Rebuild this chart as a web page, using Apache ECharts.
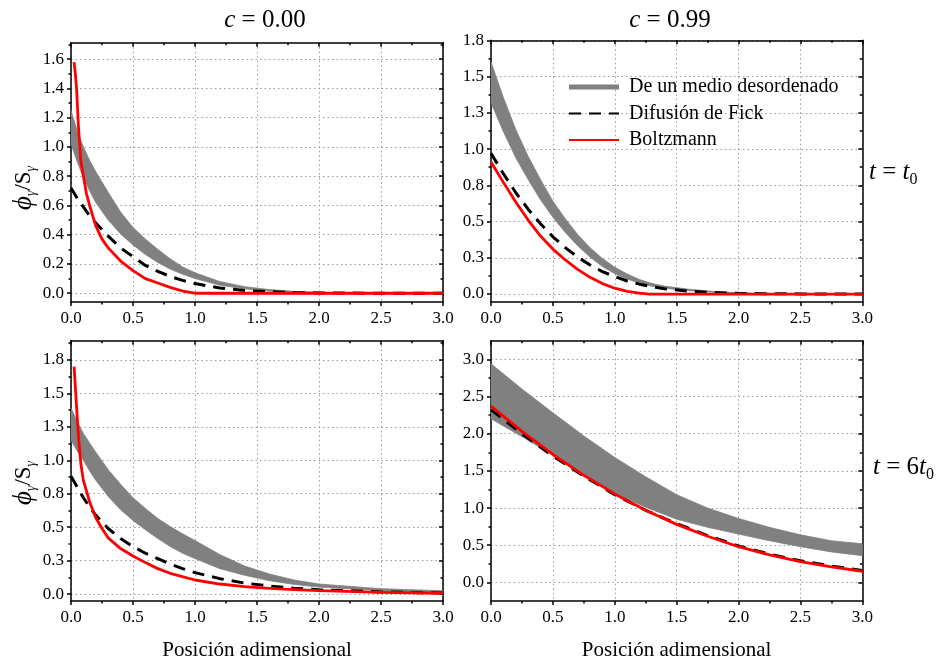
<!DOCTYPE html>
<html><head><meta charset="utf-8">
<script src="https://cdn.jsdelivr.net/npm/echarts@6/dist/echarts.min.js"></script>
<style>html,body{margin:0;padding:0;background:#fff}#c{width:938px;height:659px}</style>
</head><body><div id="c"></div>
<script>
// ---------- tick labels ----------
const xMajorTicks = [0, 0.5, 1.0, 1.5, 2.0, 2.5, 3.0];
const tlYMajor = [0, 0.2, 0.4, 0.6, 0.8, 1.0, 1.2, 1.4, 1.6];
const tlYMinor = [0.1, 0.3, 0.5, 0.7, 0.9, 1.1, 1.3, 1.5, 1.7];
const trYMajor = [0, 0.25, 0.5, 0.75, 1.0, 1.25, 1.5, 1.75];
const trYMinor = [0.125, 0.375, 0.625, 0.875, 1.125, 1.375, 1.625];
const blYMajor = [0, 0.25, 0.5, 0.75, 1.0, 1.25, 1.5, 1.75];
const blYMinor = [0.125, 0.375, 0.625, 0.875, 1.125, 1.375, 1.625, 1.875];
const brYMajor = [0, 0.5, 1.0, 1.5, 2.0, 2.5, 3.0];
const brYMinor = [0.25, 0.75, 1.25, 1.75, 2.25, 2.75];

// ---------- panel c = 0.00, t = t0 ----------
const tlX        = [0, 0.05, 0.1, 0.15, 0.2, 0.3, 0.4, 0.5, 0.6, 0.7, 0.8, 0.9, 1.0, 1.2, 1.4, 1.6, 1.8, 2.0, 2.5, 3.0];
const tlBandHigh = [1.25, 1.11, 1.0, 0.91, 0.83, 0.69, 0.555, 0.45, 0.37, 0.30, 0.235, 0.18, 0.14, 0.08, 0.045, 0.025, 0.013, 0.006, 0.001, 0];
const tlBandLow  = [1.02, 0.90, 0.79, 0.70, 0.62, 0.50, 0.405, 0.33, 0.265, 0.21, 0.165, 0.13, 0.10, 0.055, 0.03, 0.015, 0.007, 0.003, 0, 0];
const tlFick     = [0.72, 0.65, 0.59, 0.53, 0.48, 0.39, 0.31, 0.25, 0.19, 0.15, 0.115, 0.088, 0.066, 0.036, 0.019, 0.01, 0.005, 0.002, 0, 0];
const tlBoltzX   = [0.025, 0.035, 0.045, 0.06, 0.08, 0.1, 0.125, 0.15, 0.2, 0.25, 0.3, 0.4, 0.5, 0.6, 0.7, 0.8, 0.9, 1.0, 1.5, 2.0, 2.5, 3.0];
const tlBoltz    = [1.58, 1.50, 1.40, 1.14, 0.90, 0.80, 0.68, 0.60, 0.46, 0.37, 0.31, 0.22, 0.155, 0.10, 0.07, 0.04, 0.015, 0, 0, 0, 0, 0];

// ---------- panel c = 0.99, t = t0 ----------
const trX        = [0, 0.1, 0.2, 0.3, 0.4, 0.5, 0.6, 0.7, 0.8, 0.9, 1.0, 1.1, 1.2, 1.3, 1.4, 1.6, 1.8, 2.0, 2.2, 2.5, 3.0];
const trBandHigh = [1.60, 1.355, 1.135, 0.95, 0.79, 0.64, 0.52, 0.41, 0.32, 0.245, 0.185, 0.138, 0.10, 0.073, 0.055, 0.033, 0.018, 0.008, 0.003, 0.001, 0];
const trBandLow  = [1.32, 1.12, 0.94, 0.79, 0.65, 0.53, 0.425, 0.333, 0.255, 0.19, 0.14, 0.103, 0.075, 0.054, 0.04, 0.023, 0.012, 0.005, 0.002, 0, 0];
const trFick     = [0.97, 0.83, 0.70, 0.585, 0.485, 0.395, 0.32, 0.255, 0.20, 0.155, 0.12, 0.09, 0.068, 0.05, 0.037, 0.02, 0.01, 0.005, 0.002, 0.001, 0];
const trBoltzX   = [0, 0.1, 0.2, 0.3, 0.4, 0.5, 0.6, 0.7, 0.8, 0.9, 1.0, 1.1, 1.2, 1.28, 1.5, 2.0, 2.5, 3.0];
const trBoltz    = [0.91, 0.77, 0.635, 0.51, 0.40, 0.31, 0.235, 0.17, 0.115, 0.072, 0.04, 0.018, 0.006, 0, 0, 0, 0, 0];

// ---------- panel c = 0.00, t = 6 t0 ----------
const blX        = [0, 0.05, 0.1, 0.15, 0.2, 0.3, 0.4, 0.5, 0.6, 0.7, 0.8, 0.9, 1.0, 1.2, 1.4, 1.6, 1.8, 2.0, 2.5, 3.0];
const blBandHigh = [1.39, 1.29, 1.20, 1.13, 1.06, 0.93, 0.82, 0.72, 0.64, 0.565, 0.505, 0.45, 0.40, 0.295, 0.21, 0.15, 0.105, 0.075, 0.04, 0.025];
const blBandLow  = [1.15, 1.07, 1.00, 0.92, 0.85, 0.73, 0.63, 0.55, 0.48, 0.415, 0.355, 0.305, 0.265, 0.19, 0.14, 0.10, 0.072, 0.052, 0.025, 0.012];
const blFick     = [0.88, 0.80, 0.72, 0.65, 0.59, 0.49, 0.415, 0.355, 0.305, 0.265, 0.225, 0.19, 0.16, 0.115, 0.082, 0.06, 0.044, 0.032, 0.016, 0.008];
const blBoltzX   = [0.025, 0.035, 0.045, 0.06, 0.08, 0.1, 0.15, 0.2, 0.25, 0.3, 0.4, 0.5, 0.6, 0.7, 0.8, 1.0, 1.2, 1.4, 1.6, 1.8, 2.0, 2.5, 3.0];
const blBoltz    = [1.70, 1.55, 1.40, 1.18, 0.97, 0.85, 0.69, 0.57, 0.49, 0.42, 0.34, 0.285, 0.235, 0.19, 0.155, 0.105, 0.075, 0.056, 0.043, 0.033, 0.025, 0.013, 0.006];

// ---------- panel c = 0.99, t = 6 t0 ----------
const brX        = [0, 0.25, 0.5, 0.75, 1.0, 1.25, 1.5, 1.75, 2.0, 2.25, 2.5, 2.75, 3.0];
const brBandHigh = [2.94, 2.60, 2.28, 1.97, 1.68, 1.42, 1.18, 1.00, 0.86, 0.74, 0.64, 0.56, 0.52];
const brBandLow  = [2.20, 1.96, 1.71, 1.45, 1.20, 1.01, 0.85, 0.74, 0.65, 0.56, 0.48, 0.41, 0.36];
const brFick     = [2.32, 2.00, 1.70, 1.43, 1.18, 0.97, 0.79, 0.63, 0.49, 0.38, 0.29, 0.22, 0.16];
const brBoltz    = [2.37, 2.03, 1.72, 1.44, 1.19, 0.97, 0.78, 0.62, 0.48, 0.37, 0.28, 0.21, 0.15];

const NAME_BAND = 'De un medio desordenado';
const NAME_FICK = 'Difusión de Fick';
const NAME_BOLTZ = 'Boltzmann';

const SERIF = '"Liberation Serif", "Times New Roman", serif';
const GRAY = '#808080';
const RED = '#ff0000';

const zip2 = (xs, ys) => xs.map((x, i) => [x, ys[i]]);
const zip3 = (xs, a, b) => xs.map((x, i) => [x, a[i], b[i]]);

const panels = [
  { grid: {left: 71, top: 42.7, width: 372, height: 259.3}, yMin: -0.06, yMax: 1.713, yMajor: tlYMajor, yMinor: tlYMinor,
    band: zip3(tlX, tlBandLow, tlBandHigh), fick: zip2(tlX, tlFick), boltz: zip2(tlBoltzX, tlBoltz), xName: false },
  { grid: {left: 491, top: 40.3, width: 371.3, height: 261.7}, yMin: -0.055, yMax: 1.75, yMajor: trYMajor, yMinor: trYMinor,
    band: zip3(trX, trBandLow, trBandHigh), fick: zip2(trX, trFick), boltz: zip2(trBoltzX, trBoltz), xName: false },
  { grid: {left: 71, top: 340.7, width: 372, height: 260.3}, yMin: -0.052, yMax: 1.894, yMajor: blYMajor, yMinor: blYMinor,
    band: zip3(blX, blBandLow, blBandHigh), fick: zip2(blX, blFick), boltz: zip2(blBoltzX, blBoltz), xName: true },
  { grid: {left: 491, top: 340.7, width: 371.3, height: 260.3}, yMin: -0.25, yMax: 3.25, yMajor: brYMajor, yMinor: brYMinor,
    band: zip3(brX, brBandLow, brBandHigh), fick: zip2(brX, brFick), boltz: zip2(brX, brBoltz), xName: true }
];

const grids = [], xAxes = [], yAxes = [], series = [];
const black = {color: '#000', width: 1.5};
const dotted = {show: true, lineStyle: {color: '#9a9a9a', width: 1, type: [1.5, 3]}};
const fmt = v => Number(v).toFixed(1);

panels.forEach((p, i) => {
  grids.push(Object.assign({show: false, containLabel: false, outerBoundsMode: 'none'}, p.grid));
  xAxes.push({
    type: 'value', gridIndex: i, position: 'bottom', min: 0, max: 3, interval: 0.5,
    axisLine: {show: true, onZero: false, lineStyle: black},
    axisTick: {show: true, inside: false, length: 4, lineStyle: black},
    minorTick: {show: true, splitNumber: 2, length: 2.5, lineStyle: black},
    splitLine: dotted, minorSplitLine: {show: false},
    axisLabel: {show: true, formatter: fmt, color: '#000', fontFamily: SERIF, fontSize: 17, margin: 8},
    name: p.xName ? 'Posición adimensional' : '', nameLocation: 'middle', nameGap: 39,
    nameTextStyle: {fontFamily: SERIF, fontSize: 21, color: '#000'}
  });
  xAxes.push({
    type: 'value', gridIndex: i, position: 'top', min: 0, max: 3, interval: 0.5,
    axisLine: {show: true, onZero: false, lineStyle: black},
    axisTick: {show: true, inside: true, length: 4, lineStyle: black},
    minorTick: {show: true, splitNumber: 2, length: 2.5, lineStyle: black},
    splitLine: {show: false}, axisLabel: {show: false}
  });
  const yBase = {type: 'value', gridIndex: i, min: p.yMin, max: p.yMax};
  yAxes.push(Object.assign({}, yBase, {
    position: 'left',
    axisLine: {show: true, onZero: false, lineStyle: black},
    axisTick: {show: true, inside: false, length: 4, lineStyle: black, customValues: p.yMajor},
    axisLabel: {show: true, customValues: p.yMajor, formatter: fmt, color: '#000', fontFamily: SERIF, fontSize: 17, margin: 7},
    splitLine: dotted
  }));
  yAxes.push(Object.assign({}, yBase, {
    position: 'left',
    axisLine: {show: false, onZero: false},
    axisTick: {show: true, inside: false, length: 2.5, lineStyle: black, customValues: p.yMinor},
    axisLabel: {show: false}, splitLine: {show: false}
  }));
  yAxes.push(Object.assign({}, yBase, {
    position: 'right',
    axisLine: {show: true, onZero: false, lineStyle: black},
    axisTick: {show: true, inside: true, length: 4, lineStyle: black, customValues: p.yMajor},
    axisLabel: {show: false}, splitLine: {show: false}
  }));
  yAxes.push(Object.assign({}, yBase, {
    position: 'right',
    axisLine: {show: false, onZero: false},
    axisTick: {show: true, inside: true, length: 2.5, lineStyle: black, customValues: p.yMinor},
    axisLabel: {show: false}, splitLine: {show: false}
  }));

  const xi = i * 2, yi = i * 4;
  series.push({
    name: NAME_BAND, type: 'custom', xAxisIndex: xi, yAxisIndex: yi, clip: true,
    itemStyle: {color: GRAY},
    encode: {x: 0, y: [1, 2]},
    data: p.band,
    renderItem: function (params, api) {
      if (params.dataIndexInside !== 0) return null;
      const n = params.dataInsideLength;
      const up = [], lo = [];
      for (let k = 0; k < n; k++) {
        const x = api.value(0, k);
        up.push(api.coord([x, api.value(2, k)]));
        lo.push(api.coord([x, api.value(1, k)]));
      }
      return {type: 'polygon', shape: {points: up.concat(lo.reverse())},
        style: {fill: GRAY, stroke: GRAY, lineWidth: 0.8, lineJoin: 'round'}};
    }
  });
  series.push({
    name: NAME_FICK, type: 'line', xAxisIndex: xi, yAxisIndex: yi, data: p.fick,
    symbol: 'none', smooth: false, clip: true,
    lineStyle: {color: '#000', width: 3, type: [12, 8], cap: 'butt'}, itemStyle: {color: '#000'}
  });
  series.push({
    name: NAME_BOLTZ, type: 'line', xAxisIndex: xi, yAxisIndex: yi, data: p.boltz,
    symbol: 'none', smooth: false, clip: true,
    lineStyle: {color: RED, width: 2.8, join: 'round'}, itemStyle: {color: RED}
  });
});

const subRich = {
  i: {fontFamily: SERIF, fontSize: 25, fontStyle: 'italic', fill: '#000'},
  n: {fontFamily: SERIF, fontSize: 25, fill: '#000'},
  s: {fontFamily: SERIF, fontSize: 16, fill: '#000', padding: [16, 0, 0, 0]}
};
const phiRich = {
  a: {fontFamily: SERIF, fontSize: 27, fontStyle: 'italic', fill: '#000'},
  b: {fontFamily: SERIF, fontSize: 23, fill: '#000'},
  s: {fontFamily: SERIF, fontSize: 14, fontStyle: 'italic', fill: '#000', padding: [14, 0, 0, 0]}
};

const option = {
  animation: false,
  backgroundColor: '#fff',
  grid: grids, xAxis: xAxes, yAxis: yAxes, series: series,
  legend: {
    show: true, orient: 'vertical', left: 568, top: 77,
    itemWidth: 50, itemHeight: 5, itemGap: 6.5, padding: 0,
    textStyle: {fontFamily: SERIF, fontSize: 20, color: '#000', padding: [0, 0, 0, 5]},
    selectedMode: false,
    data: [
      {name: NAME_BAND, icon: 'rect', itemStyle: {color: GRAY}},
      {name: NAME_FICK, itemStyle: {opacity: 0}},
      {name: NAME_BOLTZ, itemStyle: {opacity: 0}}
    ]
  },
  graphic: [
    {type: 'text', x: 265, y: 20, style: {text: '{i|c}{n| = 0.00}', rich: subRich, align: 'center', verticalAlign: 'middle'}},
    {type: 'text', x: 670, y: 20, style: {text: '{i|c}{n| = 0.99}', rich: subRich, align: 'center', verticalAlign: 'middle'}},
    {type: 'text', x: 869, y: 172, style: {text: '{i|t}{n| = }{i|t}{s|0}', rich: subRich, align: 'left', verticalAlign: 'middle'}},
    {type: 'text', x: 873, y: 467, style: {text: '{i|t}{n| = 6}{i|t}{s|0}', rich: subRich, align: 'left', verticalAlign: 'middle'}},
    {type: 'text', x: 24, y: 188, rotation: Math.PI / 2, style: {text: '{a|ϕ}{s|γ}{b|/S}{s|γ}', align: 'center', verticalAlign: 'middle', rich: phiRich}},
    {type: 'text', x: 24, y: 483, rotation: Math.PI / 2, style: {text: '{a|ϕ}{s|γ}{b|/S}{s|γ}', align: 'center', verticalAlign: 'middle', rich: phiRich}}
  ]
};

const chart = echarts.init(document.getElementById('c'), null, {renderer: 'canvas', width: 938, height: 659});
chart.setOption(option);
</script>
</body></html>
